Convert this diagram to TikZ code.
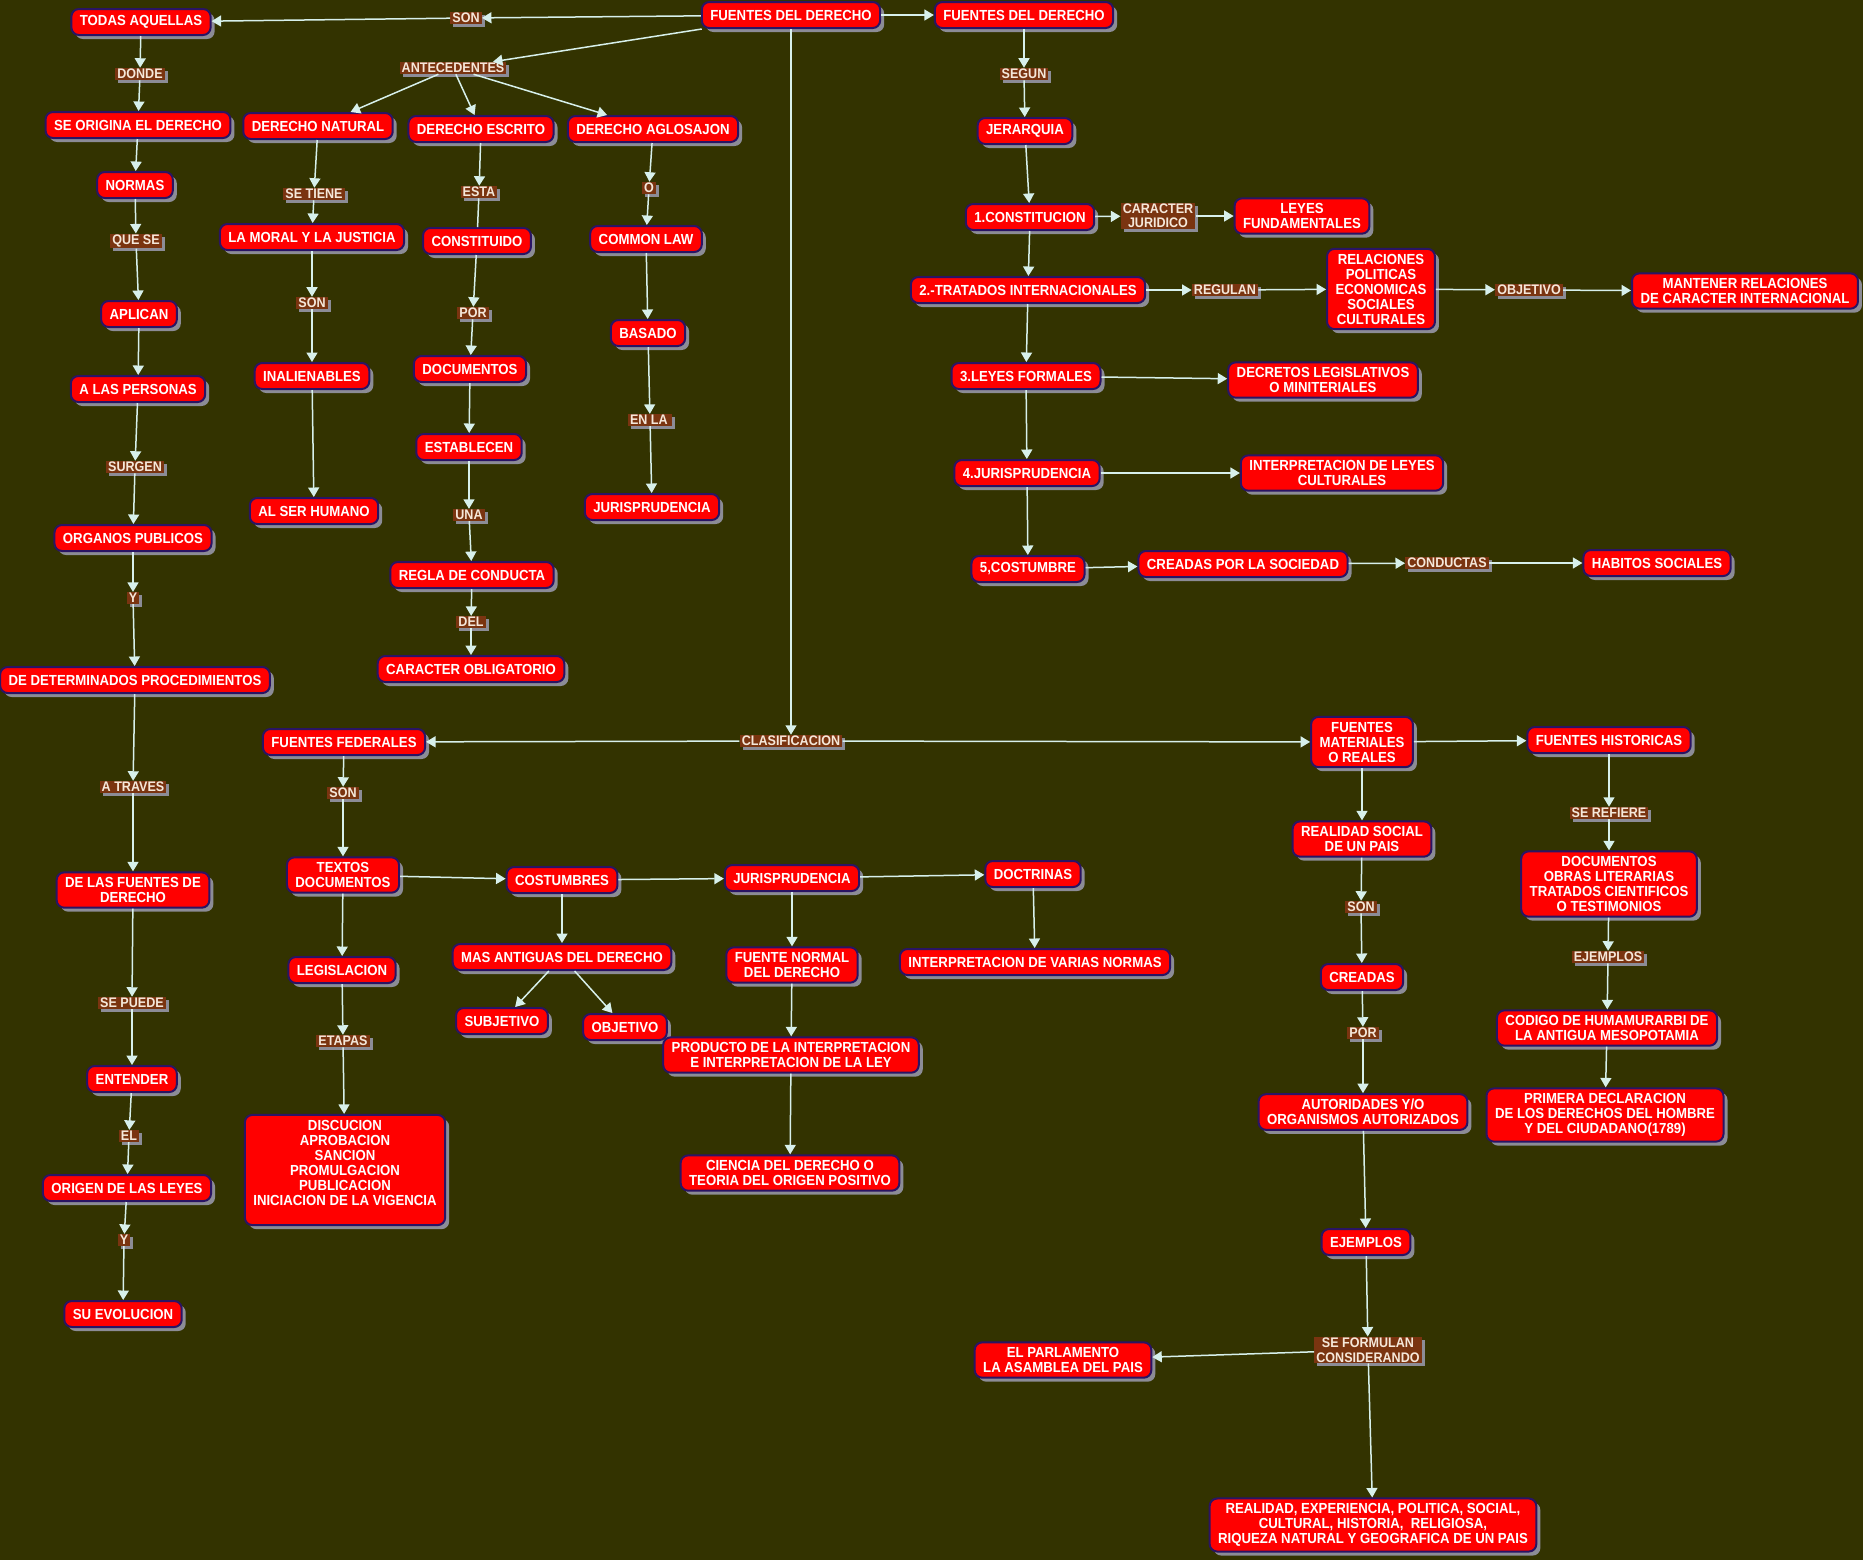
\documentclass[tikz,border=0pt]{standalone}
\usepackage{fontspec}
\newfontfamily\mapfont{Liberation Sans}[FakeStretch=0.905]
\usepackage{xcolor}
\usepackage{tikz}
\usetikzlibrary{arrows.meta,shadows}
\definecolor{olivebg}{RGB}{51,51,0}
\definecolor{mapred}{RGB}{255,0,0}
\definecolor{navyline}{RGB}{42,20,100}
\definecolor{shadegray}{RGB}{140,140,150}
\definecolor{linkbrown}{RGB}{122,52,16}
\definecolor{linktext}{RGB}{245,232,218}
\definecolor{paleline}{RGB}{215,240,235}

\begin{document}
\begin{tikzpicture}[x=0.02cm,y=-0.02cm,
    box/.style={draw=navyline,line width=0.04cm,fill=mapred,text=white,rounded corners=0.15cm,
                align=center,inner xsep=0.17cm,inner ysep=0.1cm,minimum height=0.52cm,
                font=\mapfont\bfseries\fontsize{8.3}{8.54}\selectfont,
                drop shadow={shadow xshift=0.08cm,shadow yshift=-0.08cm,fill=shadegray,opacity=1}},
    lbl/.style={fill=linkbrown,text=linktext,align=center,inner xsep=0.04cm,inner ysep=0.02cm,
                font=\mapfont\bfseries\fontsize{7.9}{8.2}\selectfont,
                drop shadow={shadow xshift=0.06cm,shadow yshift=-0.06cm,fill=shadegray,opacity=1}},
    arr/.style={-{Triangle[length=0.19cm,width=0.22cm]},paleline,line width=0.03cm},
    line/.style={paleline,line width=0.03cm}]
  \fill[olivebg] (0,0) rectangle (1863,1560);
  \useasboundingbox (0,0) rectangle (1863,1560);

  \node[box] (main) at (791,15) {FUENTES DEL DERECHO};
  \node[lbl] (sonA) at (466,18) {SON};
  \node[box] (todas) at (141,22) {TODAS AQUELLAS};
  \node[box] (fder2) at (1024,15) {FUENTES DEL DERECHO};
  \node[lbl] (antec) at (453,68) {ANTECEDENTES};

  \node[lbl] (donde) at (140,74) {DONDE};
  \node[box] (origina) at (138,125) {SE ORIGINA EL DERECHO};
  \node[box] (normas) at (135,185) {NORMAS};
  \node[lbl] (quese) at (136,241) {QUE SE};
  \node[box] (aplican) at (139,314) {APLICAN};
  \node[box] (personas) at (138,389) {A LAS PERSONAS};
  \node[lbl] (surgen) at (135,467) {SURGEN};
  \node[box] (organos) at (133,538) {ORGANOS PUBLICOS};
  \node[lbl] (yA) at (133,598) {Y};
  \node[box] (proced) at (135,680) {DE DETERMINADOS PROCEDIMIENTOS};
  \node[lbl] (atraves) at (133,787) {A TRAVES};
  \node[box] (delasf) at (133,890) {DE LAS FUENTES DE\\DERECHO};
  \node[lbl] (sepuede) at (132,1003) {SE PUEDE};
  \node[box] (entender) at (132,1079) {ENTENDER};
  \node[lbl] (elL) at (129,1136) {EL};
  \node[box] (origen) at (127,1188) {ORIGEN DE LAS LEYES};
  \node[lbl] (yB) at (124,1240) {Y};
  \node[box] (evol) at (123,1314) {SU EVOLUCION};

  \node[box] (dnat) at (318,126) {DERECHO NATURAL};
  \node[lbl] (setiene) at (314,194) {SE TIENE};
  \node[box] (moral) at (312,237) {LA MORAL Y LA JUSTICIA};
  \node[lbl] (sonB) at (312,303) {SON};
  \node[box] (inal) at (312,376) {INALIENABLES};
  \node[box] (alser) at (314,511) {AL SER HUMANO};

  \node[box] (desc) at (481,129) {DERECHO ESCRITO};
  \node[lbl] (esta) at (479,192) {ESTA};
  \node[box] (constit) at (477,241) {CONSTITUIDO};
  \node[lbl] (porA) at (473,313) {POR};
  \node[box] (docs) at (470,369) {DOCUMENTOS};
  \node[box] (establecen) at (469,447) {ESTABLECEN};
  \node[lbl] (una) at (469,515) {UNA};
  \node[box] (regla) at (472,575) {REGLA DE CONDUCTA};
  \node[lbl] (del) at (471,622) {DEL};
  \node[box] (oblig) at (471,669) {CARACTER OBLIGATORIO};

  \node[box] (dagl) at (653,129) {DERECHO AGLOSAJON};
  \node[lbl] (oL) at (649,188) {O};
  \node[box] (common) at (646,239) {COMMON LAW};
  \node[box] (basado) at (648,333) {BASADO};
  \node[lbl] (enla) at (650,420) {EN LA\,};
  \node[box] (jurisA) at (652,507) {JURISPRUDENCIA};

  \node[lbl] (segun) at (1024,74) {SEGUN};
  \node[box] (jerarquia) at (1025,131) {JERARQUIA};
  \node[box] (constitucion) at (1030,217) {1.CONSTITUCION};
  \node[lbl] (caracter) at (1158,216) {CARACTER\\JURIDICO};
  \node[box] (leyesf) at (1302,216) {LEYES\\FUNDAMENTALES};
  \node[box] (tratados) at (1028,290) {2.-TRATADOS INTERNACIONALES};
  \node[lbl] (regulan) at (1225,290) {REGULAN};
  \node[box] (relaciones) at (1381,289) {RELACIONES\\POLITICAS\\ECONOMICAS\\SOCIALES\\CULTURALES};
  \node[lbl] (objetivoL) at (1529,290) {OBJETIVO};
  \node[box] (mantener) at (1745,291) {MANTENER RELACIONES\\DE CARACTER INTERNACIONAL};
  \node[box] (lformales) at (1026,376) {3.LEYES FORMALES};
  \node[box] (decretos) at (1323,380) {DECRETOS LEGISLATIVOS\\O MINITERIALES};
  \node[box] (juris4) at (1027,473) {4.JURISPRUDENCIA};
  \node[box] (interp) at (1342,473) {INTERPRETACION DE LEYES\\CULTURALES};
  \node[box] (cost5) at (1028,569) {5,COSTUMBRE};
  \node[box] (creadasS) at (1243,564) {CREADAS POR LA SOCIEDAD};
  \node[lbl] (conductas) at (1447,563) {CONDUCTAS};
  \node[box] (habitos) at (1657,563) {HABITOS SOCIALES};

  \node[lbl] (clasif) at (791,741) {CLASIFICACION};
  \node[box] (federales) at (344,742) {FUENTES FEDERALES};
  \node[lbl] (sonC) at (343,793) {SON};
  \node[box] (textos) at (343,875) {TEXTOS\\DOCUMENTOS};
  \node[box] (legis) at (342,970) {LEGISLACION};
  \node[lbl] (etapas) at (343,1041) {ETAPAS};
  \node[box] (discu) at (345,1170) {DISCUCION\\APROBACION\\SANCION\\PROMULGACION\\PUBLICACION\\INICIACION DE LA VIGENCIA\\~};
  \node[box] (costumbres) at (562,880) {COSTUMBRES};
  \node[box] (masant) at (562,957) {MAS ANTIGUAS DEL DERECHO};
  \node[box] (subj) at (502,1021) {SUBJETIVO};
  \node[box] (obj) at (625,1027) {OBJETIVO};
  \node[box] (jurisB) at (792,878) {JURISPRUDENCIA};
  \node[box] (fnormal) at (792,965) {FUENTE NORMAL\\DEL DERECHO};
  \node[box] (producto) at (791,1055) {PRODUCTO DE LA INTERPRETACION\\E INTERPRETACION DE LA LEY};
  \node[box] (ciencia) at (790,1173) {CIENCIA DEL DERECHO O\\TEORIA DEL ORIGEN POSITIVO};
  \node[box] (doctrinas) at (1033,874) {DOCTRINAS};
  \node[box] (varias) at (1035,962) {INTERPRETACION DE VARIAS NORMAS};

  \node[box] (materiales) at (1362,742) {FUENTES\\MATERIALES\\O REALES};
  \node[box] (realidad) at (1362,839) {REALIDAD SOCIAL\\DE UN PAIS};
  \node[lbl] (sonD) at (1361,907) {SON};
  \node[box] (creadas) at (1362,977) {CREADAS};
  \node[lbl] (porB) at (1363,1033) {POR};
  \node[box] (autoridades) at (1363,1112) {AUTORIDADES Y/O\\ORGANISMOS AUTORIZADOS};
  \node[box] (ejemplosN) at (1366,1242) {EJEMPLOS};
  \node[lbl] (seform) at (1368,1350) {SE FORMULAN\\CONSIDERANDO};
  \node[box] (parlamento) at (1063,1360) {EL PARLAMENTO\\LA ASAMBLEA DEL PAIS};
  \node[box] (realexp) at (1373,1525) {REALIDAD, EXPERIENCIA, POLITICA, SOCIAL,\\CULTURAL, HISTORIA,\ \ RELIGIOSA,\\RIQUEZA NATURAL Y GEOGRAFICA DE UN PAIS};

  \node[box] (historicas) at (1609,740) {FUENTES HISTORICAS};
  \node[lbl] (serefiere) at (1609,813) {SE REFIERE};
  \node[box] (docobras) at (1609,884) {DOCUMENTOS\\OBRAS LITERARIAS\\TRATADOS CIENTIFICOS\\O TESTIMONIOS};
  \node[lbl] (ejemplosL) at (1608,957) {EJEMPLOS};
  \node[box] (codigo) at (1607,1028) {CODIGO DE HUMAMURARBI DE\\LA ANTIGUA MESOPOTAMIA};
  \node[box] (primera) at (1605,1115) {PRIMERA DECLARACION\\DE LOS DERECHOS DEL HOMBRE\\Y DEL CIUDADANO(1789)};

  \draw[arr] (main) -- (sonA); \draw[arr] (sonA) -- (todas); \draw[arr] (main) -- (fder2);
  \draw[arr] (main) -- (antec); \draw[arr] (antec) -- (dnat); \draw[arr] (antec) -- (desc); \draw[arr] (antec) -- (dagl);
  \draw[arr] (todas) -- (donde); \draw[arr] (donde) -- (origina); \draw[arr] (origina) -- (normas); \draw[arr] (normas) -- (quese);
  \draw[arr] (quese) -- (aplican); \draw[arr] (aplican) -- (personas); \draw[arr] (personas) -- (surgen); \draw[arr] (surgen) -- (organos);
  \draw[arr] (organos) -- (yA); \draw[arr] (yA) -- (proced); \draw[arr] (proced) -- (atraves); \draw[arr] (atraves) -- (delasf);
  \draw[arr] (delasf) -- (sepuede); \draw[arr] (sepuede) -- (entender); \draw[arr] (entender) -- (elL); \draw[arr] (elL) -- (origen);
  \draw[arr] (origen) -- (yB); \draw[arr] (yB) -- (evol);
  \draw[arr] (dnat) -- (setiene); \draw[arr] (setiene) -- (moral); \draw[arr] (moral) -- (sonB); \draw[arr] (sonB) -- (inal); \draw[arr] (inal) -- (alser);
  \draw[arr] (desc) -- (esta); \draw[line] (esta) -- (constit); \draw[arr] (constit) -- (porA); \draw[arr] (porA) -- (docs);
  \draw[arr] (docs) -- (establecen); \draw[arr] (establecen) -- (una); \draw[arr] (una) -- (regla); \draw[arr] (regla) -- (del); \draw[arr] (del) -- (oblig);
  \draw[arr] (dagl) -- (oL); \draw[arr] (oL) -- (common); \draw[arr] (common) -- (basado); \draw[arr] (basado) -- (enla); \draw[arr] (enla) -- (jurisA);
  \draw[arr] (fder2) -- (segun); \draw[arr] (segun) -- (jerarquia); \draw[arr] (jerarquia) -- (constitucion); \draw[arr] (constitucion) -- (tratados);
  \draw[arr] (tratados) -- (lformales); \draw[arr] (lformales) -- (juris4); \draw[arr] (juris4) -- (cost5);
  \draw[arr] (constitucion) -- (caracter); \draw[arr] (caracter) -- (leyesf);
  \draw[arr] (tratados) -- (regulan); \draw[arr] (regulan) -- (relaciones); \draw[arr] (relaciones) -- (objetivoL); \draw[arr] (objetivoL) -- (mantener);
  \draw[arr] (lformales) -- (decretos); \draw[arr] (juris4) -- (interp);
  \draw[arr] (cost5) -- (creadasS); \draw[arr] (creadasS) -- (conductas); \draw[arr] (conductas) -- (habitos);
  \draw[arr] (main) -- (clasif); \draw[arr] (clasif) -- (federales); \draw[arr] (clasif) -- (materiales);
  \draw[arr] (federales) -- (sonC); \draw[arr] (sonC) -- (textos); \draw[arr] (textos) -- (legis); \draw[arr] (legis) -- (etapas); \draw[arr] (etapas) -- (discu);
  \draw[arr] (textos) -- (costumbres); \draw[arr] (costumbres) -- (jurisB); \draw[arr] (jurisB) -- (doctrinas);
  \draw[arr] (costumbres) -- (masant); \draw[arr] (masant) -- (subj); \draw[arr] (masant) -- (obj);
  \draw[arr] (jurisB) -- (fnormal); \draw[arr] (fnormal) -- (producto); \draw[arr] (producto) -- (ciencia); \draw[arr] (doctrinas) -- (varias);
  \draw[arr] (materiales) -- (historicas); \draw[arr] (materiales) -- (realidad); \draw[arr] (realidad) -- (sonD); \draw[arr] (sonD) -- (creadas);
  \draw[arr] (creadas) -- (porB); \draw[arr] (porB) -- (autoridades); \draw[arr] (autoridades) -- (ejemplosN); \draw[arr] (ejemplosN) -- (seform);
  \draw[arr] (seform) -- (parlamento); \draw[arr] (seform) -- (realexp);
  \draw[arr] (historicas) -- (serefiere); \draw[arr] (serefiere) -- (docobras); \draw[arr] (docobras) -- (ejemplosL); \draw[arr] (ejemplosL) -- (codigo); \draw[arr] (codigo) -- (primera);
\end{tikzpicture}
\end{document}
